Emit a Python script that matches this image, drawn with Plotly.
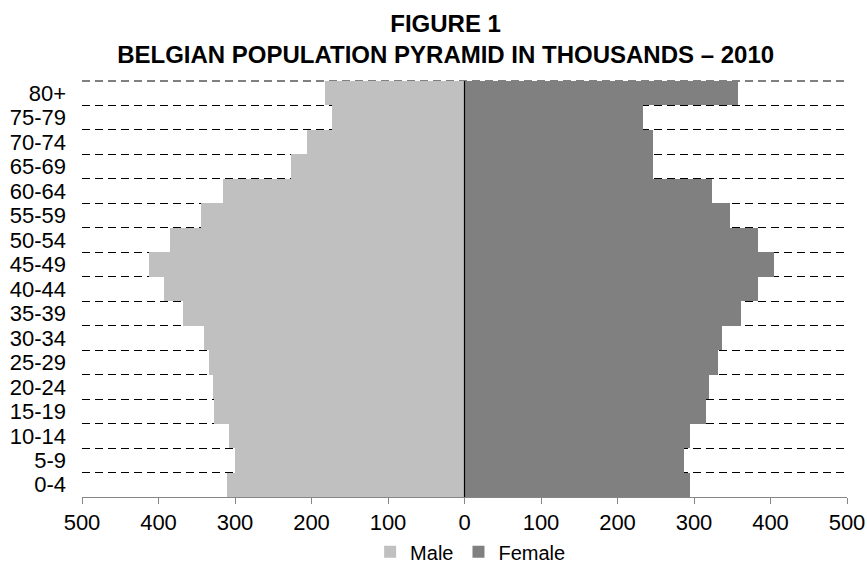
import plotly.graph_objects as go

# Belgian population by age group, 2010 (thousands)
age_groups = ["0-4", "5-9", "10-14", "15-19", "20-24", "25-29", "30-34", "35-39",
              "40-44", "45-49", "50-54", "55-59", "60-64", "65-69", "70-74", "75-79", "80+"]
male_thousands = [310, 300, 308, 327, 329, 334, 341, 368, 393, 413, 385, 345, 316, 227, 206, 173, 183]
female_thousands = [295, 287, 295, 316, 319, 332, 337, 361, 384, 405, 384, 347, 324, 246, 246, 233, 358]

x_ticks = [-500, -400, -300, -200, -100, 0, 100, 200, 300, 400, 500]
x_tick_text = [str(abs(v)) for v in x_ticks]

FONT = "Arial, 'Liberation Sans', sans-serif"

fig = go.Figure()
fig.add_trace(go.Bar(
    y=age_groups, x=[-v for v in male_thousands], orientation="h",
    name="Male", marker=dict(color="#C0C0C0", line=dict(width=0)),
))
fig.add_trace(go.Bar(
    y=age_groups, x=female_thousands, orientation="h",
    name="Female", marker=dict(color="#808080", line=dict(width=0)),
))

# dashed gridline along the top edge of the plot area
fig.add_shape(type="line", xref="paper", yref="paper", x0=0, x1=1, y0=1, y1=1,
              line=dict(color="#000000", width=1, dash="8px,5px"), layer="below")
# vertical axis through zero
fig.add_shape(type="line", xref="x", yref="paper", x0=0, x1=0, y0=0, y1=1,
              line=dict(color="#000000", width=1.2), layer="above")

fig.update_layout(
    width=867, height=563,
    margin=dict(l=82, r=20, t=81, b=66, autoexpand=False),
    paper_bgcolor="white", plot_bgcolor="white",
    barmode="relative", bargap=0,
    font=dict(family=FONT, size=22, color="#000000"),
    title=dict(
        text="<b>FIGURE 1<br>BELGIAN POPULATION PYRAMID IN THOUSANDS – 2010</b>",
        font=dict(family=FONT, size=24, color="#000000"),
        x=0.514, xref="container", xanchor="center",
        y=0.943, yref="container", yanchor="middle",
    ),
    xaxis=dict(
        range=[-500, 500], tickvals=x_ticks, ticktext=x_tick_text,
        showgrid=False, zeroline=False, automargin=False,
        showline=True, linecolor="#868686", linewidth=1,
        ticks="outside", ticklen=6, tickcolor="#868686", tickwidth=1,
        tickfont=dict(size=22, family=FONT, color="#000000"),
    ),
    yaxis=dict(
        type="category", tickson="boundaries",
        tickmode="array", tickvals=age_groups, ticktext=age_groups,
        showgrid=True, gridcolor="#000000", gridwidth=1, griddash="8px,5px",
        showline=False, zeroline=False, ticks="", automargin=False,
        ticklabelstandoff=15,
        tickfont=dict(size=22, family=FONT, color="#000000"),
    ),
    legend=dict(
        orientation="h", x=0.508, xanchor="center",
        y=0.02, yref="container", yanchor="middle",
        font=dict(size=20, family=FONT, color="#000000"),
        itemwidth=30, traceorder="normal",
    ),
    showlegend=True,
)

fig.write_html("out.html")
